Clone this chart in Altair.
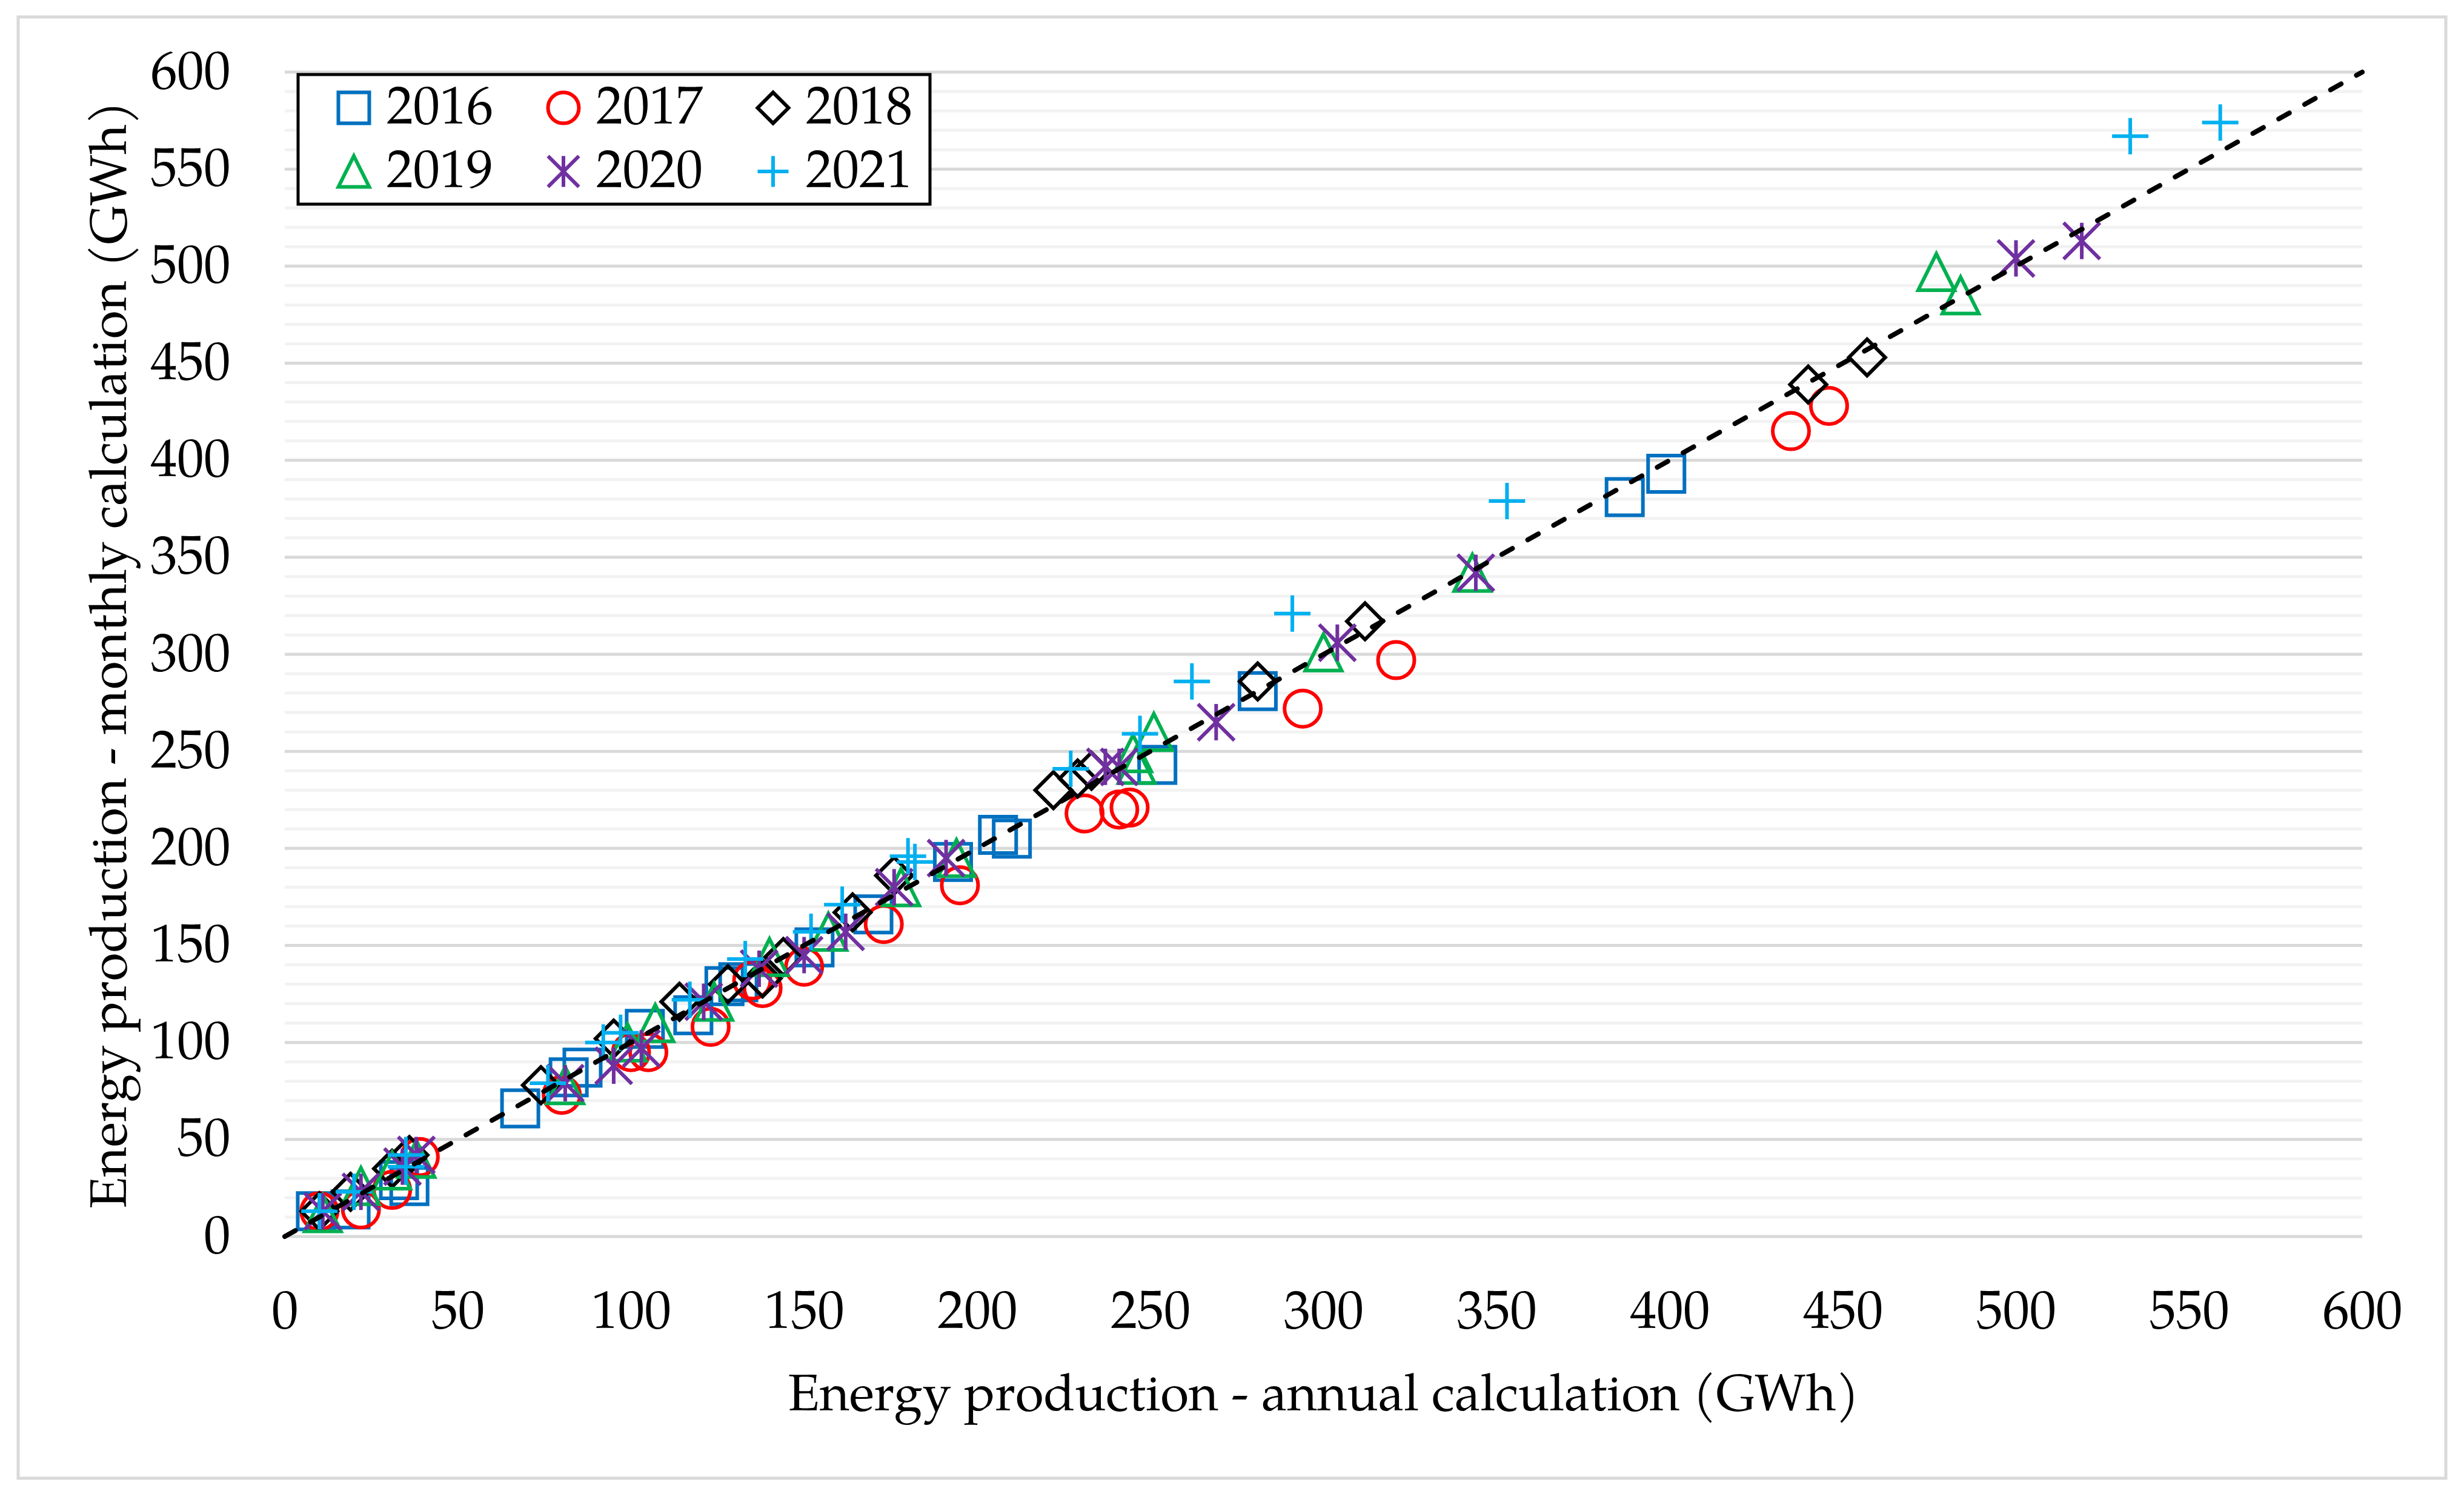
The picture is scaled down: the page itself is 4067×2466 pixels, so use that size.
import altair as alt
import pandas as pd

FONT = "Palatino Linotype, Book Antiqua, Palatino, TeX Gyre Pagella, P052, URW Palladio L, Liberation Serif, serif"

years = ["2016", "2017", "2018", "2019", "2020", "2021"]
colors = ["#0070C0", "#FF0000", "#000000", "#00B050", "#7030A0", "#00B0F0"]
shapes = [
    "M-1,-1H1V1H-1Z",                      # square
    "circle",                              # circle
    "diamond",                             # diamond
    "M0,-1L1,1L-1,1Z",                     # triangle
    "M0,-1V1M-1,-1L1,1M-1,1L1,-1",         # asterisk
    "M-1,0H1M0,-1V1",                      # plus
]

annual_2016 = [9, 19, 33, 36, 68, 82, 86, 104, 118, 127, 131, 153, 170, 193, 206, 210, 252, 281, 387, 399]
monthly_2016 = [13, 14, 29, 26, 66, 82, 87, 107, 114, 129, 131, 149, 166, 193, 207, 205, 243, 281, 381, 393]

annual_2017 = [10, 22, 31, 39, 80, 100, 105, 123, 135, 138, 150, 173, 195, 231, 241, 244, 294, 321, 435, 446]
monthly_2017 = [13, 14, 24, 41, 73, 95, 95, 108, 132, 128, 139, 161, 181, 218, 220, 221, 272, 297, 415, 428]

annual_2018 = [10, 19, 31, 36, 74, 95, 114, 128, 138, 144, 164, 176, 222, 229, 233, 281, 312, 440, 457]
monthly_2018 = [13, 23, 35, 42, 78, 102, 121, 130, 133, 144, 167, 186, 230, 236, 240, 286, 317, 439, 453]

annual_2019 = [11, 22, 31, 38, 81, 99, 107, 124, 140, 157, 178, 194, 245, 246, 251, 300, 343, 477, 484]
monthly_2019 = [12, 26, 34, 40, 78, 100, 110, 121, 144, 157, 180, 195, 249, 243, 260, 301, 342, 497, 485]

annual_2020 = [11, 22, 34, 38, 81, 95, 103, 121, 137, 150, 162, 176, 191, 237, 241, 269, 304, 344, 500, 519]
monthly_2020 = [13, 23, 36, 42, 79, 88, 97, 121, 138, 145, 157, 180, 195, 242, 242, 265, 306, 342, 504, 513]

annual_2021 = [10, 20, 35, 35, 76, 92, 97, 117, 133, 152, 161, 180, 182, 227, 247, 262, 291, 353, 533, 559]
monthly_2021 = [13, 23, 36, 42, 79, 100, 105, 122, 143, 157, 171, 196, 193, 241, 259, 286, 321, 379, 567, 574]

diag = [0, 600]
tick_values = list(range(0, 601, 50))
minor_grid = [v for v in range(0, 601, 10) if v % 50 != 0]
major_grid = list(range(0, 601, 50))

annual_all = [annual_2016, annual_2017, annual_2018, annual_2019, annual_2020, annual_2021]
monthly_all = [monthly_2016, monthly_2017, monthly_2018, monthly_2019, monthly_2020, monthly_2021]

rows = []
for yr, xs, ys in zip(years, annual_all, monthly_all):
    for a, m in zip(xs, ys):
        rows.append({"Year": yr, "annual": a, "monthly": m})
df = pd.DataFrame(rows)
df_line = pd.DataFrame({"annual": diag, "monthly": diag})
df_minor = pd.DataFrame({"monthly": minor_grid})
df_major = pd.DataFrame({"monthly": major_grid})
df_one = pd.DataFrame({"k": [0]})

W, H = 3429, 1922

xscale = alt.Scale(domain=[0, 600], nice=False, zero=False)
yscale = alt.Scale(domain=[0, 600], nice=False, zero=False)

x_axis = alt.Axis(
    values=tick_values, grid=False, domain=False, ticks=False, tickSize=0,
    labelFont=FONT, labelFontSize=88, labelColor="black", labelPadding=150,
    labelBaseline="alphabetic", labelFlush=False, labelOverlap=False, labelBound=False,
    title="Energy production - annual calculation (GWh)",
    titleFont=FONT, titleFontSize=85, titleFontWeight="normal", titleColor="black",
    titleX=W / 2, titleY=286, titleBaseline="alphabetic", titleAlign="center",
)
y_axis = alt.Axis(
    values=tick_values, grid=False, domain=False, ticks=False, tickSize=0,
    labelFont=FONT, labelFontSize=88, labelColor="black", labelPadding=90,
    labelBaseline="middle", labelAlign="right", labelFlush=False, labelOverlap=False, labelBound=False,
    title="Energy production - monthly calculation (GWh)",
    titleFont=FONT, titleFontSize=85, titleFontWeight="normal", titleColor="black",
    titleX=-263, titleY=H / 2, titleAngle=270, titleBaseline="alphabetic", titleAlign="center",
)

X = alt.X("annual:Q", scale=xscale, axis=x_axis)
Y = alt.Y("monthly:Q", scale=yscale, axis=y_axis)

legend = alt.Legend(
    orient="none", legendX=70, legendY=15, direction="horizontal", columns=3, title=None,
    labelFont=FONT, labelFontSize=88, labelColor="black", labelOffset=10, labelLimit=600,
    symbolSize=2600, symbolStrokeWidth=6, columnPadding=71, rowPadding=17, padding=0,
)

frame = alt.Chart(df_one).mark_rect(fill="transparent", stroke="#D9D9D9", strokeWidth=5).encode(
    x=alt.value(-440), x2=alt.value(3567), y=alt.value(-91), y2=alt.value(2321)
)

minor = alt.Chart(df_minor).mark_rule(color="#F2F2F2", strokeWidth=5).encode(
    y=Y, x=alt.value(0), x2=alt.value(W)
)
major = alt.Chart(df_major).mark_rule(color="#D9D9D9", strokeWidth=5).encode(
    y=Y, x=alt.value(0), x2=alt.value(W)
)

legend_box = alt.Chart(df_one).mark_rect(fill="white", stroke="black", strokeWidth=5).encode(
    x=alt.value(22), x2=alt.value(1065), y=alt.value(4), y2=alt.value(218)
)

points = alt.Chart(df).mark_point(filled=False, size=3600, strokeWidth=6, opacity=1).encode(
    x=X,
    y=Y,
    color=alt.Color("Year:N", scale=alt.Scale(domain=years, range=colors), legend=legend),
    shape=alt.Shape("Year:N", scale=alt.Scale(domain=years, range=shapes), legend=legend),
    order=alt.Order("Year:N"),
)

line = alt.Chart(df_line).mark_line(color="black", strokeWidth=8, strokeDash=[20, 29], strokeCap="round").encode(
    x=X,
    y=Y,
)

chart = alt.layer(frame, minor, major, legend_box, points, line).properties(
    width=W, height=H,
    padding={"left": 462, "top": 111, "right": 160, "bottom": 417},
    autosize=alt.AutoSizeParams(type="none"),
    background="white",
).configure_view(stroke=None)

chart.save("out.html", embed_options={"renderer": "svg", "actions": False})
